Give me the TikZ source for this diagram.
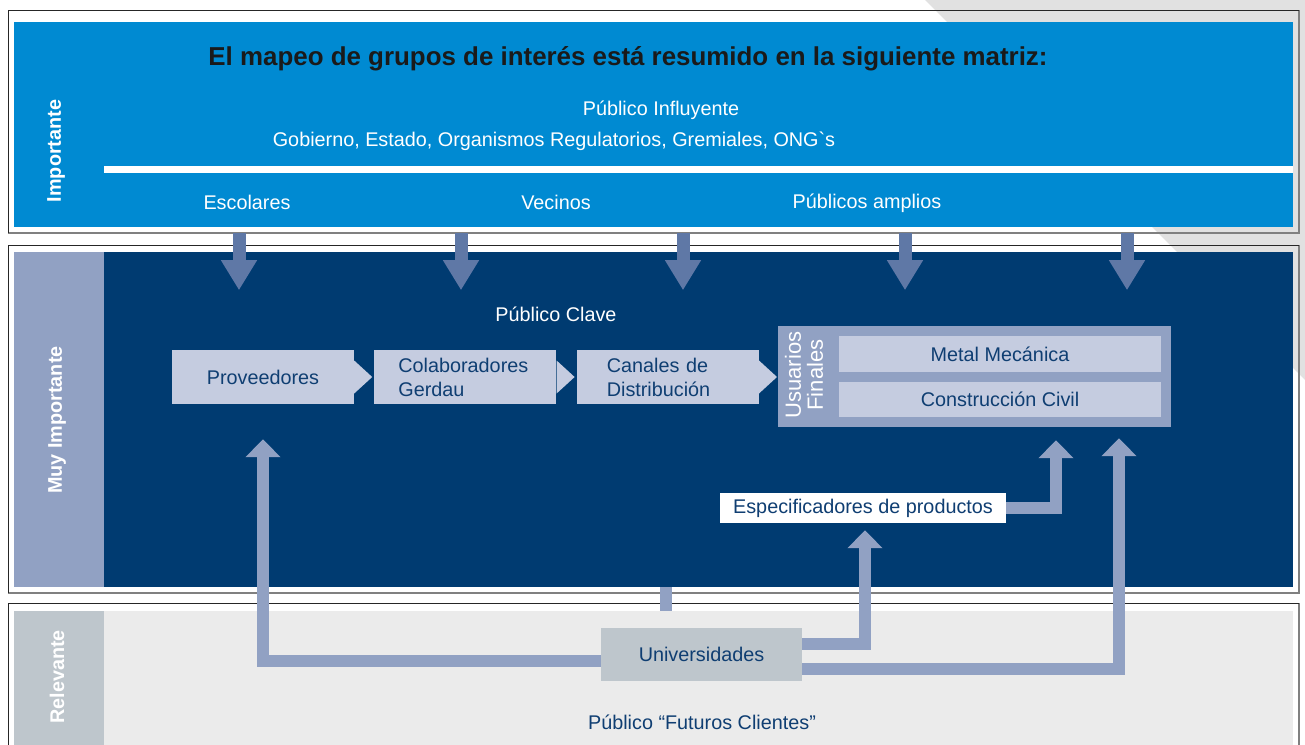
\documentclass[tikz,border=0pt]{standalone}
\usepackage{fontspec}
\setmainfont{Liberation Sans}
\usetikzlibrary{arrows.meta}
\usetikzlibrary{positioning}
\definecolor{bandblue}{HTML}{008AD2}
\definecolor{navy}{HTML}{003B71}
\definecolor{slate}{HTML}{91A1C3}
\definecolor{boxlight}{HTML}{C5CCE0}
\definecolor{arrowblue}{HTML}{5F78A6}
\definecolor{paneltext}{HTML}{0F3E72}
\definecolor{relgrey}{HTML}{BEC6CC}
\definecolor{futfill}{HTML}{EBEBEB}
\definecolor{backgrey}{HTML}{E1E1E1}
\definecolor{titleblack}{HTML}{1A1A1A}
\newcommand\mapfont{\fontsize{19.8pt}{24pt}\selectfont}
\newcommand\headfont{\fontsize{25.9pt}{30pt}\selectfont\bfseries}
\newcommand\usrfont{\fontsize{22pt}{22pt}\selectfont}

\begin{document}
\begin{tikzpicture}[x=1pt, y=-1pt,
    every node/.style={inner sep=0pt, font=\mapfont},
    sidelabel/.style={text=white, font=\mapfont\bfseries, rotate=90},
    stagebox/.style={fill=boxlight, text=paneltext, minimum width=182pt, minimum height=54pt},
    subbox/.style={fill=boxlight, text=paneltext, minimum width=322pt},
    downarrow/.style={draw=arrowblue, line width=13pt, -{Triangle[width=34pt, length=30pt]}},
    uparrow/.style={draw=slate, line width=12pt, -{Triangle[width=34pt, length=18pt]}},
    frametop/.style={draw=black!85, line width=1pt},
    frameshade/.style={draw=black!50, line width=2pt}]
  \useasboundingbox (0,0) rectangle (1305,744);
  \fill[backgrey] (925,0) -- (1305,0) -- (1305,380) -- cycle;
  \foreach \top/\bot in {10/233, 245/593, 603/760} {
    \draw[frameshade] (8,\bot) -| (1299,\top);
    \draw[frametop] (8,\bot) |- (1299,\top);
  }
  \node[fill=bandblue, minimum width=1279pt, minimum height=205pt] (band) at (653.5,124.5) {};
  \fill[white] (104,166) rectangle (1293,173);
  \fill[slate] (14,252) rectangle (104,587);
  \node[fill=navy, minimum width=1189pt, minimum height=335pt] (clave) at (698.5,419.5) {};
  \fill[relgrey] (14,611) rectangle (104,760);
  \fill[futfill] (104,611) rectangle (1293,760);
  \fill[slate] (660,587) rectangle (672,611);

  \node[font=\headfont, text=titleblack] (title) at (628,59) {El mapeo de grupos de interés está resumido en la siguiente matriz:};
  \node[text=white] (influyente) at (661,110) {Público Influyente};
  \node[text=white] (gobierno) at (554,141) {Gobierno, Estado, Organismos Regulatorios, Gremiales, ONG\textasciigrave s};
  \node[text=white] (escolares) at (247,202) {Escolares};
  \node[text=white] (vecinos) at (556,202) {Vecinos};
  \node[text=white] (amplios) at (867,203) {Públicos amplios};
  \node[sidelabel] (importante) at (56,151) {Importante};
  \node[sidelabel] (muyimp) at (57,420) {Muy Importante};
  \node[sidelabel] (relevante) at (57,677) {Relevante};

  \node[text=white] (clavetxt) at (556,314) {Público Clave};
  \node[stagebox] (prov) at (263,377) {Proveedores};
  \node[stagebox, right=20pt of prov, text width=134pt, inner xsep=24pt, align=left] (colab) {Colaboradores\\Gerdau};
  \node[stagebox, right=20pt of colab, text width=122pt, inner xsep=30pt, align=left] (canal) {Canales de\\Distribución};
  \foreach \n in {prov,colab,canal}
    \fill[boxlight] ([yshift=16.5pt]\n.east) -- ++(18,16.5) -- ++(-18,16.5) -- cycle;

  \node[fill=slate, minimum width=393pt, minimum height=101pt] (usuarios) at (974.5,376.5) {};
  \node[subbox, minimum height=36pt] (metal) at (1000,354) {Metal Mecánica};
  \node[subbox, minimum height=35pt] (civil) at (1000,399.5) {Construcción Civil};
  \node[text=white, rotate=90, align=center, font=\usrfont] (finales) at (804,375) {Usuarios\\Finales};

  \node[fill=white, text=paneltext, minimum width=286pt, minimum height=30pt] (spec) at (863,508) {Especificadores de productos};
  \node[fill=relgrey, text=paneltext, minimum width=201pt, minimum height=53pt] (uni) at (701.5,654.5) {Universidades};
  \node[text=paneltext] (futuros) at (702,722) {Público “Futuros Clientes”};

  \foreach \dx in {-414.5,-192.5,29.5,251.5,473.5}
    \draw[downarrow] ([xshift=\dx pt, yshift=-6pt]band.south) -- ++(0,57);
  \draw[uparrow] ([yshift=-6.5pt]uni.west) -| ([yshift=-35pt]prov.south);
  \draw[uparrow] ([yshift=10.5pt]uni.east) -| ([xshift=2pt, yshift=-7pt]spec.south);
  \draw[uparrow] (spec.east) -| ([xshift=81.5pt, yshift=-13pt]usuarios.south);
  \draw[uparrow] ([yshift=-14pt]uni.east) -| ([xshift=144.5pt, yshift=-11pt]usuarios.south);
\end{tikzpicture}
\end{document}
